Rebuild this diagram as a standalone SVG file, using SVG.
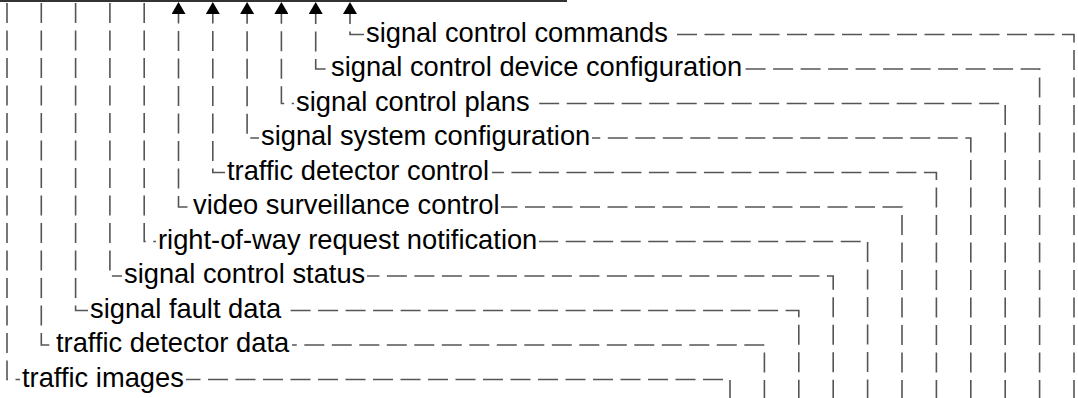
<svg xmlns="http://www.w3.org/2000/svg" width="1078" height="398" viewBox="0 0 1078 398">
<style>
.c{fill:none;stroke:#555;stroke-width:1.6;stroke-dasharray:20 7.5}
.t{font-family:"Liberation Sans",Arial,sans-serif;font-size:27.3px;fill:#000}
.m{fill:#fff}
.b{fill:none;stroke:#333;stroke-width:2}
</style>
<defs>
<marker id="ah" viewBox="0 0 12 14" refX="12" refY="7" markerWidth="12" markerHeight="14" markerUnits="userSpaceOnUse" orient="auto">
<path d="M0,0 L12,7 L0,14 z" fill="#000"/>
</marker>
</defs>
<g id="node-top"><line class="b" x1="0" y1="1" x2="567" y2="1"/></g>
<g id="connectors">
<path class="c" d="M7,3 V379.5 H730 V400"/>
<path class="c" d="M41.3,3 V345 H764.4 V400"/>
<path class="c" d="M75.6,3 V310.5 H798.8 V400"/>
<path class="c" d="M109.9,3 V276 H833.2 V400"/>
<path class="c" d="M144.2,3 V241.5 H867.6 V400"/>
<path class="c" d="M902,400 V207 H178.5 V2" marker-end="url(#ah)"/>
<path class="c" d="M936.4,400 V172.5 H212.8 V2" marker-end="url(#ah)"/>
<path class="c" d="M970.8,400 V138 H247.1 V2" marker-end="url(#ah)"/>
<path class="c" d="M1005.2,400 V103.5 H281.4 V2" marker-end="url(#ah)"/>
<path class="c" d="M1039.6,400 V69 H315.7 V2" marker-end="url(#ah)"/>
<path class="c" d="M1074,400 V34.5 H350 V2" marker-end="url(#ah)"/>
</g>
<g id="labels">
<rect class="m" x="20" y="372" width="166" height="15"/>
<rect class="m" x="54" y="337.5" width="238" height="15"/>
<rect class="m" x="88" y="303" width="195" height="15"/>
<rect class="m" x="122" y="268.5" width="245" height="15"/>
<rect class="m" x="156" y="234" width="383" height="15"/>
<rect class="m" x="191" y="199.5" width="310" height="15"/>
<rect class="m" x="225" y="165" width="267" height="15"/>
<rect class="m" x="259" y="130.5" width="333" height="15"/>
<rect class="m" x="294" y="96" width="238" height="15"/>
<rect class="m" x="329" y="61.5" width="415" height="15"/>
<rect class="m" x="364" y="27" width="306" height="15"/>
<text class="t" x="22" y="386.5">traffic images</text>
<text class="t" x="56" y="352">traffic detector data</text>
<text class="t" x="90" y="317.5">signal fault data</text>
<text class="t" x="124" y="283">signal control status</text>
<text class="t" x="158" y="248.5">right-of-way request notification</text>
<text class="t" x="193" y="214">video surveillance control</text>
<text class="t" x="227" y="179.5">traffic detector control</text>
<text class="t" x="261" y="145">signal system configuration</text>
<text class="t" x="296" y="110.5">signal control plans</text>
<text class="t" x="331" y="76">signal control device configuration</text>
<text class="t" x="366" y="41.5">signal control commands</text>
</g>
</svg>
